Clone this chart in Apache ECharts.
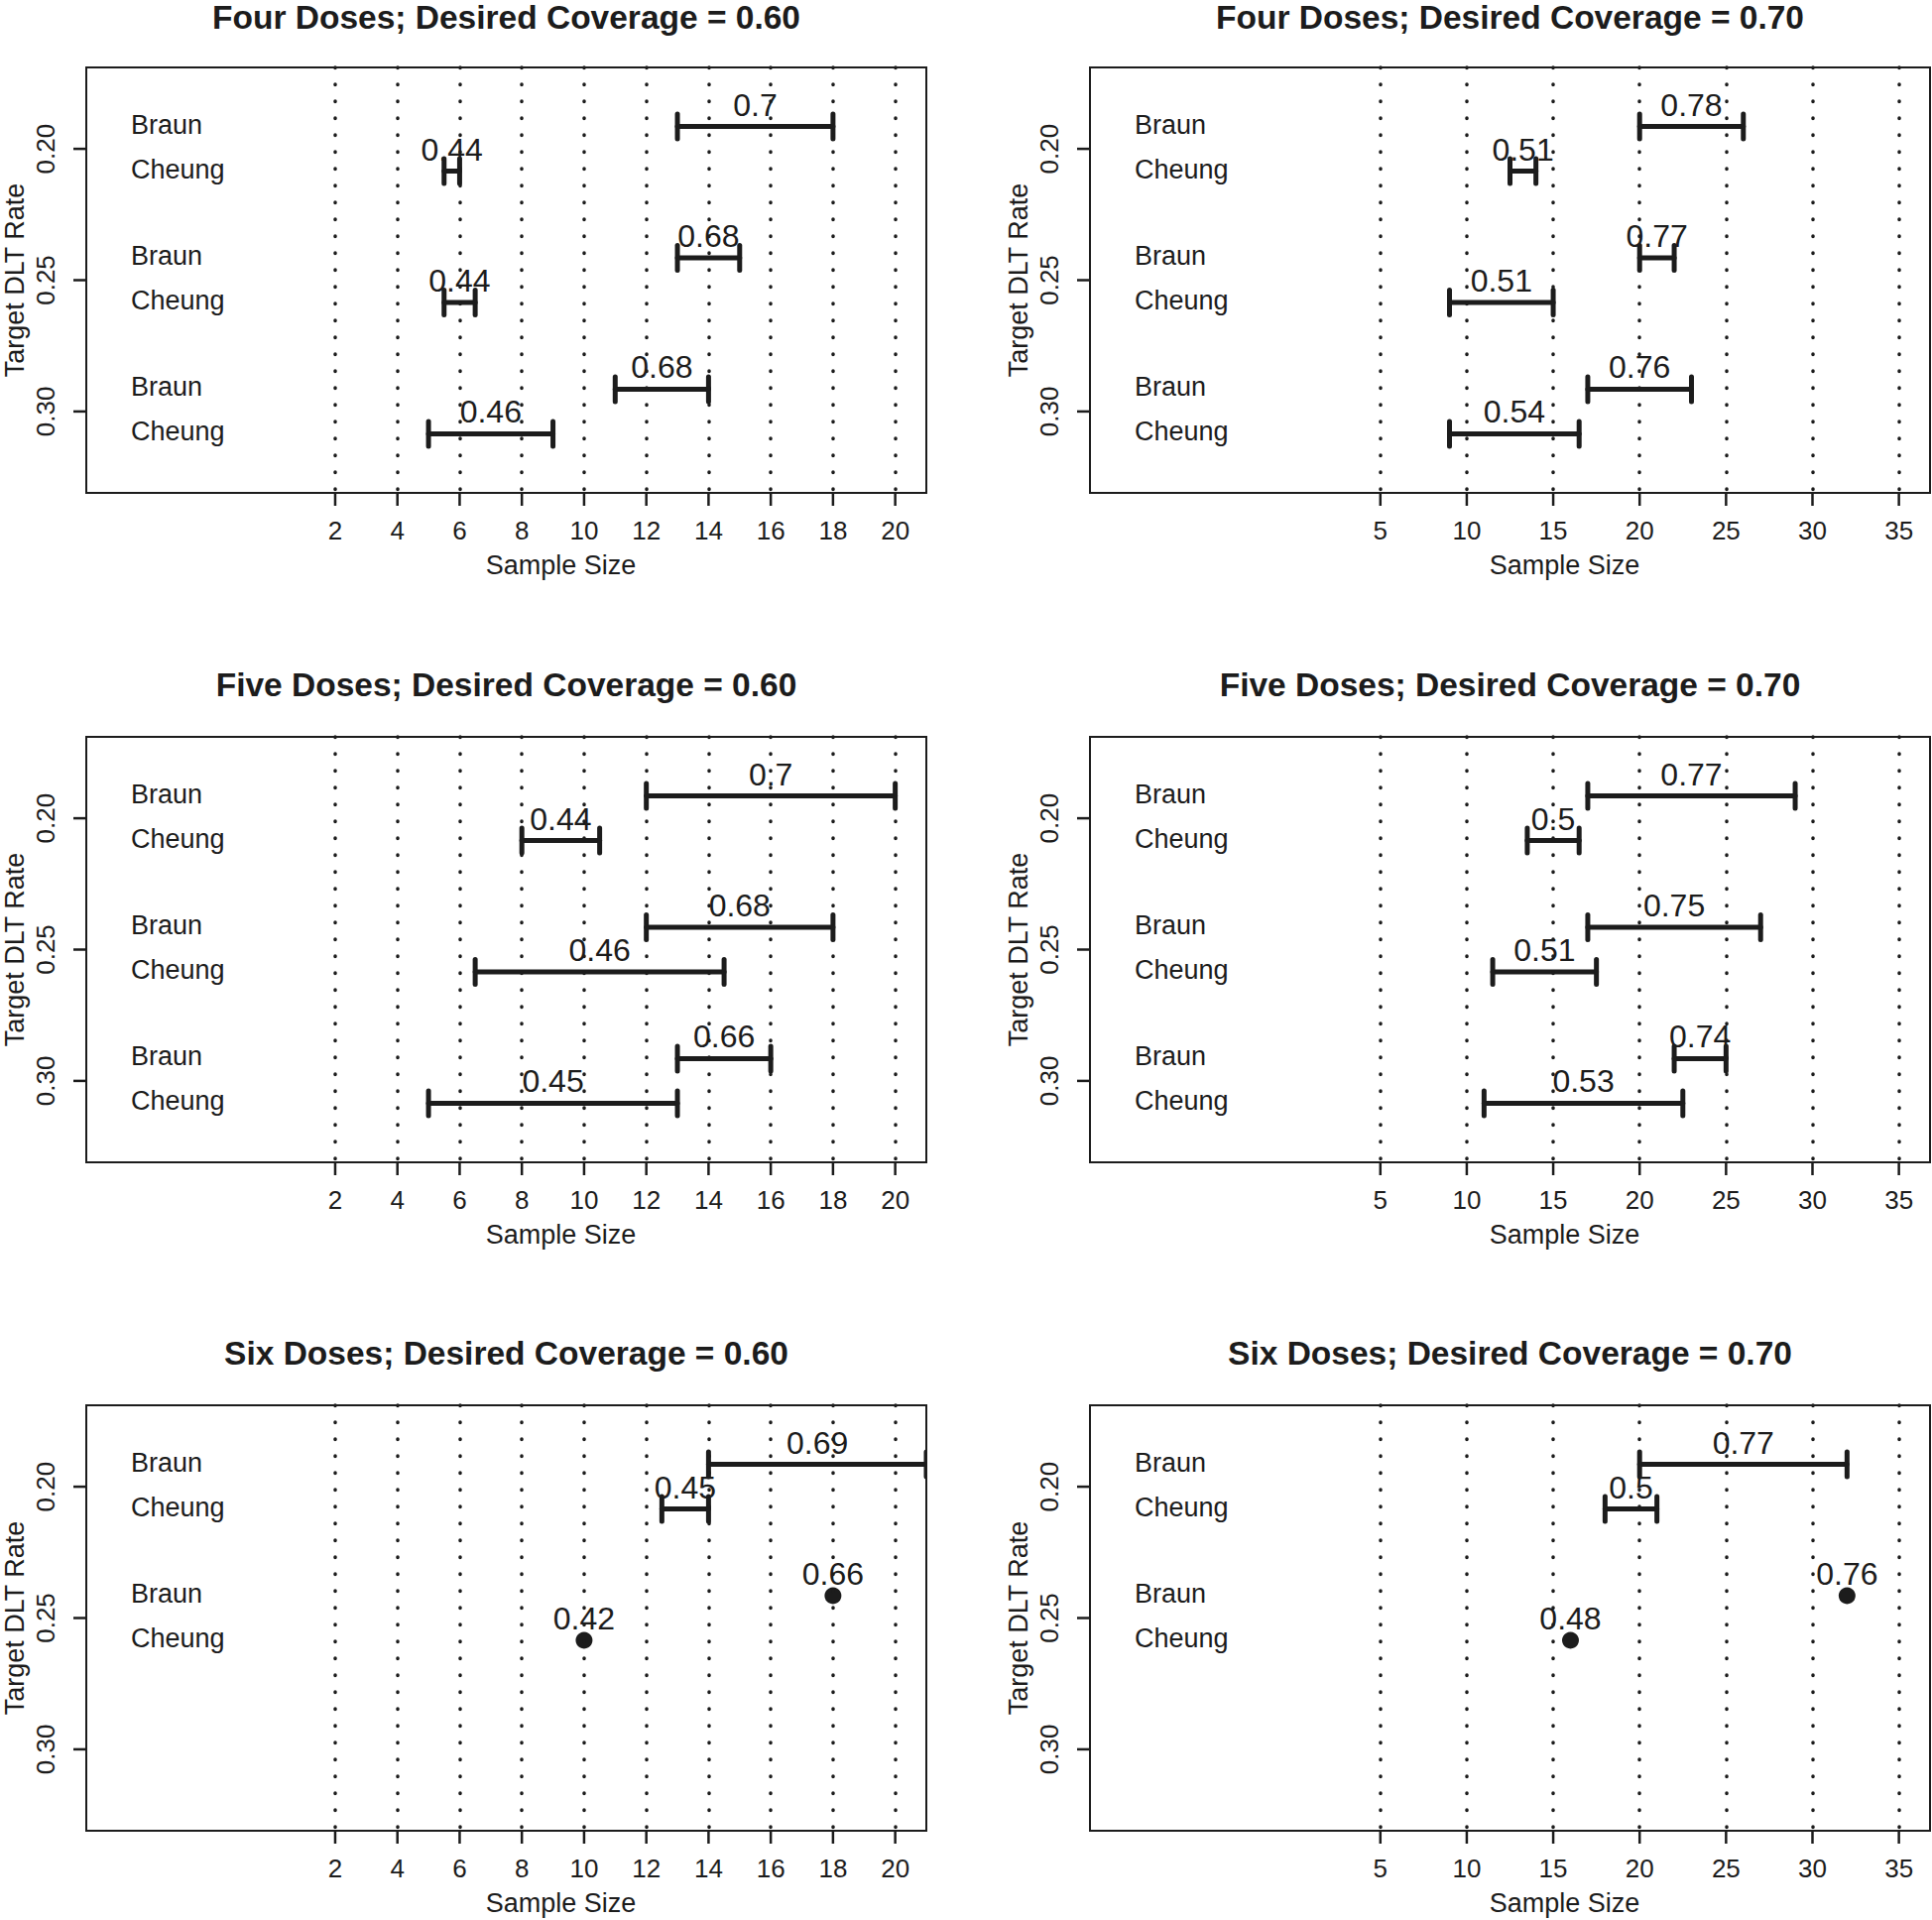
<!DOCTYPE html>
<html>
<head>
<meta charset="utf-8">
<title>Sample size intervals</title>
<script src="https://cdn.jsdelivr.net/npm/echarts@6/dist/echarts.min.js"></script>
<style>
  html, body { margin: 0; padding: 0; background: #fff; }
  #main { width: 1948px; height: 1936px; }
</style>
</head>
<body>
<div id="main"></div>
<script>
// tick labels / axes
var ticksLeft = [2, 4, 6, 8, 10, 12, 14, 16, 18, 20];
var ticksRight = [5, 10, 15, 20, 25, 30, 35];
var rateTicks = [0.20, 0.25, 0.30];

// rows of each panel (target rate + method)
var rowRates3 = [0.20, 0.20, 0.25, 0.25, 0.30, 0.30];
var rowNames3 = ['Braun', 'Cheung', 'Braun', 'Cheung', 'Braun', 'Cheung'];
var rowRates2 = [0.20, 0.20, 0.25, 0.25];
var rowNames2 = ['Braun', 'Cheung', 'Braun', 'Cheung'];

// sample size ranges (lo, hi) and coverage labels
var four60Lo = [13, 5.5, 13, 5.5, 11, 5];
var four60Hi = [18, 6, 15, 6.5, 14, 9];
var four60Cov = [0.7, 0.44, 0.68, 0.44, 0.68, 0.46];

var four70Lo = [20, 12.5, 20, 9, 17, 9];
var four70Hi = [26, 14, 22, 15, 23, 16.5];
var four70Cov = [0.78, 0.51, 0.77, 0.51, 0.76, 0.54];

var five60Lo = [12, 8, 12, 6.5, 13, 5];
var five60Hi = [20, 10.5, 18, 14.5, 16, 13];
var five60Cov = [0.7, 0.44, 0.68, 0.46, 0.66, 0.45];

var five70Lo = [17, 13.5, 17, 11.5, 22, 11];
var five70Hi = [29, 16.5, 27, 17.5, 25, 22.5];
var five70Cov = [0.77, 0.5, 0.75, 0.51, 0.74, 0.53];

var six60Lo = [14, 12.5, 18, 10];
var six60Hi = [21, 14, 18, 10];
var six60Cov = [0.69, 0.45, 0.66, 0.42];

var six70Lo = [20, 18, 32, 16];
var six70Hi = [32, 21, 32, 16];
var six70Cov = [0.77, 0.5, 0.76, 0.48];

var titles = [
    'Four Doses; Desired Coverage = 0.60', 'Four Doses; Desired Coverage = 0.70',
    'Five Doses; Desired Coverage = 0.60', 'Five Doses; Desired Coverage = 0.70',
    'Six Doses; Desired Coverage = 0.60', 'Six Doses; Desired Coverage = 0.70'
];

var panels = [
    {lo: four60Lo, hi: four60Hi, cov: four60Cov, rates: rowRates3, names: rowNames3},
    {lo: four70Lo, hi: four70Hi, cov: four70Cov, rates: rowRates3, names: rowNames3},
    {lo: five60Lo, hi: five60Hi, cov: five60Cov, rates: rowRates3, names: rowNames3},
    {lo: five70Lo, hi: five70Hi, cov: five70Cov, rates: rowRates3, names: rowNames3},
    {lo: six60Lo, hi: six60Hi, cov: six60Cov, rates: rowRates2, names: rowNames2},
    {lo: six70Lo, hi: six70Hi, cov: six70Cov, rates: rowRates2, names: rowNames2}
];

var ink = '#1c1c1c';
var font = '"Liberation Sans", Arial, Helvetica, sans-serif';
var gridLeft = [87, 1099];
var gridTop = [68, 743, 1417];
var gridW = 847, gridH = 429;
var yMin = 0.169, yMax = 0.331;
var rowShift = 0.0085;   // Braun above, Cheung below the rate
var tickLen = 13;

var chart = echarts.init(document.getElementById('main'), null, {renderer: 'svg'});

function makeRender(names) {
    return function (params, api) {
        var y = api.value(2);
        var p0 = api.coord([api.value(0), y]);
        var p1 = api.coord([api.value(1), y]);
        var cs = params.coordSys;
        var kids = [{
            type: 'text',
            style: {text: names[params.dataIndex], x: cs.x + 45, y: p0[1] - 2, align: 'left',
                verticalAlign: 'middle', fill: ink, fontSize: 27, fontFamily: font}
        }];
        if (api.value(0) === api.value(1)) {
            kids.push({type: 'circle', shape: {cx: p0[0], cy: p0[1], r: 8.5}, style: {fill: ink}});
        } else {
            var ls = {stroke: ink, lineWidth: 5, lineCap: 'round'};
            kids.push({type: 'line', shape: {x1: p0[0], y1: p0[1], x2: p1[0], y2: p1[1]}, style: ls});
            kids.push({type: 'line', shape: {x1: p0[0], y1: p0[1] - 12.5, x2: p0[0], y2: p0[1] + 12.5}, style: ls});
            kids.push({type: 'line', shape: {x1: p1[0], y1: p1[1] - 12.5, x2: p1[0], y2: p1[1] + 12.5}, style: ls});
        }
        kids.push({
            type: 'text',
            style: {text: String(api.value(3)), x: (p0[0] + p1[0]) / 2, y: p0[1] - 22, align: 'center',
                verticalAlign: 'middle', fill: ink, fontSize: 32, fontFamily: font}
        });
        return {type: 'group', children: kids};
    };
}

// tick marks outside the box: dir 0 = x tick (down), 1 = y tick (left)
function renderTick(params, api) {
    var p = api.coord([api.value(0), api.value(1)]);
    var down = api.value(2) === 0;
    return {
        type: 'line',
        shape: down ? {x1: p[0], y1: p[1], x2: p[0], y2: p[1] + tickLen}
                    : {x1: p[0], y1: p[1], x2: p[0] - tickLen, y2: p[1]},
        style: {stroke: ink, lineWidth: 2.5}
    };
}

var option = {
    backgroundColor: '#fff',
    animation: false,
    textStyle: {fontFamily: font, color: ink},
    grid: [], xAxis: [], yAxis: [], series: [], graphic: []
};

panels.forEach(function (p, i) {
    var col = i % 2, row = Math.floor(i / 2);
    var ticks = col === 0 ? ticksLeft : ticksRight;
    var xMin = col === 0 ? -6 : -11.8, xMax = col === 0 ? 21 : 36.8;
    var left = gridLeft[col], top = gridTop[row];

    option.grid.push({left: left, top: top, width: gridW, height: gridH, show: true,
        outerBoundsMode: 'none', containLabel: false,
        borderColor: ink, borderWidth: 2, backgroundColor: 'transparent'});

    option.xAxis.push({
        gridIndex: i, type: 'value', min: xMin, max: xMax,
        axisLine: {show: false, onZero: false}, splitLine: {show: false}, axisTick: {show: false},
        axisLabel: {customValues: ticks, fontSize: 26, color: ink, margin: 25, fontFamily: font},
        name: 'Sample Size', nameLocation: 'middle', nameGap: 59,
        nameTextStyle: {fontSize: 27, color: ink, fontFamily: font, padding: [0, 0, 0, 110]}
    });

    option.yAxis.push({
        gridIndex: i, type: 'value', inverse: true, min: yMin, max: yMax,
        axisLine: {show: false, onZero: false}, splitLine: {show: false}, axisTick: {show: false},
        axisLabel: {customValues: rateTicks, rotate: 90, fontSize: 26, color: ink, margin: 28,
            fontFamily: font, formatter: function (v) { return v.toFixed(2); }},
        name: 'Target DLT Rate', nameLocation: 'middle', nameGap: 59,
        nameTextStyle: {fontSize: 27, color: ink, fontFamily: font}
    });

    var data = p.rates.map(function (r, k) {
        var y = r + (p.names[k] === 'Braun' ? -rowShift : rowShift);
        return [p.lo[k], p.hi[k], y, p.cov[k]];
    });

    option.series.push({
        type: 'custom', xAxisIndex: i, yAxisIndex: i, clip: true, silent: true,
        encode: {x: [0, 1], y: 2},
        renderItem: makeRender(p.names),
        data: data,
        markLine: {
            silent: true, symbol: ['none', 'none'], label: {show: false},
            lineStyle: {type: [0.5, 16.5], width: 3.5, color: ink, cap: 'round'},
            emphasis: {disabled: true},
            data: ticks.map(function (v) { return {xAxis: v}; })
        }
    });

    var tickData = ticks.map(function (v) { return [v, yMax, 0]; })
        .concat(rateTicks.map(function (r) { return [xMin, r, 1]; }));
    option.series.push({
        type: 'custom', xAxisIndex: i, yAxisIndex: i, clip: false, silent: true,
        encode: {x: 0, y: 1},
        renderItem: renderTick,
        data: tickData
    });

    option.graphic.push({
        type: 'text', x: left + gridW / 2, y: Math.max(top - 53, 17),
        style: {text: titles[i], align: 'center', verticalAlign: 'middle', fill: ink,
            fontSize: 33.5, fontWeight: 'bold', fontFamily: font}
    });
});

chart.setOption(option);
</script>
</body>
</html>
